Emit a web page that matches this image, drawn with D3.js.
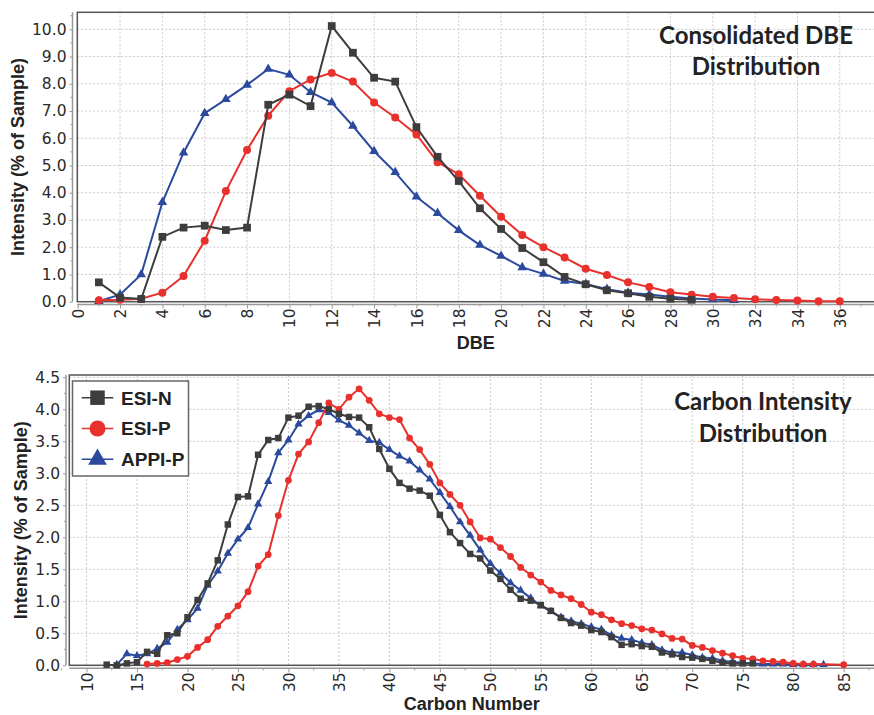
<!DOCTYPE html>
<html>
<head>
<meta charset="utf-8">
<script src="https://cdn.jsdelivr.net/npm/d3@7/dist/d3.min.js"></script>
<style>
  body { margin: 0; background: #fff; }
  svg { display: block; }
</style>
</head>
<body>
<script>
const SERIES = ['ESI-N', 'ESI-P', 'APPI-P']

// DBE distribution
const dbeN = [1, 2, 3, 4, 5, 6, 7, 8, 9, 10, 11, 12, 13, 14, 15, 16, 17, 18, 19, 20, 21, 22, 23, 24, 25, 26, 27, 28, 29]
const dbeEsiN = [0.71, 0.15, 0.10, 2.38, 2.72, 2.79, 2.63, 2.72, 7.23, 7.60, 7.18, 10.12, 9.14, 8.22, 8.08, 6.41, 5.32, 4.43, 3.43, 2.67, 1.97, 1.45, 0.91, 0.64, 0.42, 0.31, 0.18, 0.11, 0.07]
const dbeP = [1, 2, 3, 4, 5, 6, 7, 8, 9, 10, 11, 12, 13, 14, 15, 16, 17, 18, 19, 20, 21, 22, 23, 24, 25, 26, 27, 28, 29, 30, 31, 32, 33, 34, 35, 36]
const dbeEsiP = [0.05, 0.07, 0.11, 0.33, 0.94, 2.24, 4.06, 5.57, 6.83, 7.73, 8.16, 8.40, 8.08, 7.31, 6.76, 6.14, 5.12, 4.68, 3.89, 3.12, 2.45, 2.00, 1.62, 1.21, 0.98, 0.71, 0.54, 0.35, 0.26, 0.18, 0.14, 0.09, 0.06, 0.04, 0.02, 0.02]
const dbeA = [1, 2, 3, 4, 5, 6, 7, 8, 9, 10, 11, 12, 13, 14, 15, 16, 17, 18, 19, 20, 21, 22, 23, 24, 25, 26, 27, 28, 29, 30, 31]
const dbeAppiP = [0.02, 0.26, 1.00, 3.65, 5.47, 6.92, 7.43, 7.96, 8.54, 8.33, 7.69, 7.31, 6.45, 5.52, 4.75, 3.85, 3.25, 2.62, 2.08, 1.68, 1.26, 1.02, 0.76, 0.65, 0.46, 0.33, 0.26, 0.18, 0.12, 0.08, 0.05]
const dbeXTicks = [0, 2, 4, 6, 8, 10, 12, 14, 16, 18, 20, 22, 24, 26, 28, 30, 32, 34, 36]
const dbeYTicks = [0, 1, 2, 3, 4, 5, 6, 7, 8, 9, 10]

// carbon number distribution
const cN = [12, 13, 14, 15, 16, 17, 18, 19, 20, 21, 22, 23, 24, 25, 26, 27, 28, 29, 30, 31, 32, 33, 34, 35, 36, 37, 38, 39, 40, 41, 42, 43, 44, 45, 46, 47, 48, 49, 50, 51, 52, 53, 54, 55, 56, 57, 58, 59, 60, 61, 62, 63, 64, 65, 66, 67, 68, 69, 70, 71, 72, 73, 74, 75, 76]
const cEsiN = [0.01, 0.00, 0.03, 0.05, 0.21, 0.18, 0.47, 0.50, 0.75, 1.02, 1.28, 1.64, 2.20, 2.63, 2.64, 3.29, 3.52, 3.55, 3.87, 3.90, 4.04, 4.05, 4.00, 3.93, 3.88, 3.87, 3.72, 3.38, 3.07, 2.85, 2.76, 2.73, 2.65, 2.35, 2.08, 1.91, 1.74, 1.67, 1.48, 1.35, 1.18, 1.04, 1.01, 0.94, 0.85, 0.74, 0.66, 0.62, 0.55, 0.52, 0.44, 0.32, 0.33, 0.30, 0.29, 0.20, 0.17, 0.13, 0.12, 0.10, 0.07, 0.04, 0.03, 0.03, 0.03]
const cP = [16, 17, 18, 19, 20, 21, 22, 23, 24, 25, 26, 27, 28, 29, 30, 31, 32, 33, 34, 35, 36, 37, 38, 39, 40, 41, 42, 43, 44, 45, 46, 47, 48, 49, 50, 51, 52, 53, 54, 55, 56, 57, 58, 59, 60, 61, 62, 63, 64, 65, 66, 67, 68, 69, 70, 71, 72, 73, 74, 75, 76, 77, 78, 79, 80, 81, 82, 85]
const cEsiP = [0.02, 0.03, 0.04, 0.09, 0.14, 0.28, 0.40, 0.61, 0.77, 0.93, 1.15, 1.55, 1.73, 2.34, 2.89, 3.30, 3.49, 3.79, 4.10, 4.00, 4.19, 4.32, 4.14, 3.93, 3.87, 3.84, 3.55, 3.37, 3.14, 2.85, 2.67, 2.50, 2.24, 1.99, 1.97, 1.84, 1.70, 1.53, 1.41, 1.30, 1.17, 1.10, 1.04, 0.95, 0.83, 0.79, 0.71, 0.65, 0.62, 0.57, 0.55, 0.49, 0.42, 0.41, 0.31, 0.28, 0.23, 0.19, 0.15, 0.11, 0.10, 0.07, 0.06, 0.05, 0.03, 0.02, 0.02, 0.01]
const cA = [13, 14, 15, 16, 17, 18, 19, 20, 21, 22, 23, 24, 25, 26, 27, 28, 29, 30, 31, 32, 33, 34, 35, 36, 37, 38, 39, 40, 41, 42, 43, 44, 45, 46, 47, 48, 49, 50, 51, 52, 53, 54, 55, 56, 57, 58, 59, 60, 61, 62, 63, 64, 65, 66, 67, 68, 69, 70, 71, 72, 73, 74, 75, 76, 77, 78, 79, 80, 81, 82, 83]
const cAppiP = [0.01, 0.18, 0.15, 0.18, 0.26, 0.36, 0.56, 0.71, 0.89, 1.25, 1.47, 1.75, 1.97, 2.15, 2.52, 2.87, 3.32, 3.52, 3.77, 3.90, 3.99, 3.95, 3.83, 3.75, 3.63, 3.51, 3.48, 3.37, 3.27, 3.19, 3.05, 2.91, 2.70, 2.48, 2.24, 2.03, 1.80, 1.59, 1.44, 1.29, 1.17, 1.05, 0.93, 0.84, 0.75, 0.69, 0.65, 0.60, 0.56, 0.47, 0.42, 0.40, 0.35, 0.32, 0.24, 0.20, 0.20, 0.16, 0.12, 0.11, 0.07, 0.05, 0.04, 0.03, 0.02, 0.02, 0.02, 0.01, 0.01, 0.01, 0.01]
const cXTicks = [10, 15, 20, 25, 30, 35, 40, 45, 50, 55, 60, 65, 70, 75, 80, 85]
const cYTicks = [0, 0.5, 1, 1.5, 2, 2.5, 3, 3.5, 4, 4.5]

const colors = { 'ESI-N': '#3d3d3d', 'ESI-P': '#e8302c', 'APPI-P': '#2b4a9e' }
const shapes = { 'ESI-N': d3.symbolSquare, 'ESI-P': d3.symbolCircle, 'APPI-P': d3.symbolTriangle }

const svg = d3.select('body').append('svg')
  .attr('width', 874)
  .attr('height', 715)

function zip (xs, ys) {
  return xs.map((x, i) => ({ x, y: ys[i] }))
}

function drawChart (o) {
  const g = svg.append('g')
  const x = d3.scaleLinear().domain(o.xDomain).range(o.xRange)
  const y = d3.scaleLinear().domain(o.yDomain).range(o.yRange)
  const left = o.frame[0], top = o.frame[1], right = o.frame[2], bottom = o.frame[3]

  // grid
  g.append('g').selectAll('line').data(o.xGrid).join('line')
    .attr('x1', d => x(d)).attr('x2', d => x(d))
    .attr('y1', top).attr('y2', bottom)
    .attr('stroke', '#c9c9c9').attr('stroke-dasharray', '2,2')
  g.append('g').selectAll('line').data(o.yTicks).join('line')
    .attr('x1', left).attr('x2', right)
    .attr('y1', d => y(d)).attr('y2', d => y(d))
    .attr('stroke', '#c9c9c9').attr('stroke-dasharray', '2,2')

  // frame
  g.append('rect')
    .attr('x', left).attr('y', top)
    .attr('width', right - left).attr('height', bottom - top)
    .attr('fill', 'none').attr('stroke', '#555').attr('stroke-width', 1.5)

  // y axis
  const yAx = g.append('g').attr('transform', `translate(${o.yAxisX},0)`)
    .call(d3.axisLeft(y).tickValues(o.yTicks).tickFormat(d3.format('.1f')).tickSize(3).tickPadding(3))
  yAx.append('g').selectAll('line').data(o.yMinor).join('line')
    .attr('x1', -2).attr('x2', 0).attr('y1', d => y(d)).attr('y2', d => y(d))
    .attr('stroke', '#999')
  yAx.select('.domain').attr('d', `M0,${top}V${bottom}`)

  // x axis
  const xAx = g.append('g').attr('transform', `translate(0,${o.xAxisY})`)
    .call(d3.axisBottom(x).tickValues(o.xTicks).tickFormat(d3.format('d')).tickSize(4))
  xAx.append('g').selectAll('line').data(o.xMinor).join('line')
    .attr('x1', d => x(d)).attr('x2', d => x(d)).attr('y1', 0).attr('y2', 2)
    .attr('stroke', '#999')
  xAx.select('.domain').attr('d', `M${left},0H${right}`)
  xAx.selectAll('.tick text')
    .attr('transform', 'rotate(-90)')
    .attr('text-anchor', 'end')
    .attr('x', -4).attr('y', 0).attr('dy', '0.36em')

  for (const ax of [xAx, yAx]) {
    ax.selectAll('.domain').attr('stroke', '#999').attr('stroke-width', 1.5)
    ax.selectAll('.tick line').attr('stroke', '#999')
    ax.selectAll('.tick text')
      .attr('font-family', 'DejaVu Sans, sans-serif')
      .attr('font-size', 15.5).attr('fill', '#2a2a2a')
  }

  // axis titles
  g.append('text')
    .attr('transform', `translate(${o.yTitleX},${(top + bottom) / 2}) rotate(-90)`)
    .attr('text-anchor', 'middle')
    .attr('font-family', 'Liberation Sans, Arial, sans-serif')
    .attr('font-weight', 'bold').attr('font-size', 18).attr('fill', '#222')
    .text('Intensity (% of Sample)')
  g.append('text')
    .attr('x', (left + 874) / 2).attr('y', o.xTitleY)
    .attr('text-anchor', 'middle')
    .attr('font-family', 'Liberation Sans, Arial, sans-serif')
    .attr('font-weight', 'bold').attr('font-size', 18).attr('fill', '#222')
    .text(o.xTitle)

  // chart title
  const t = g.append('text')
    .attr('text-anchor', 'middle')
    .attr('font-family', 'Lato, Open Sans, sans-serif')
    .attr('font-weight', 'bold').attr('font-size', 24).attr('fill', '#222')
  o.title.forEach((s, i) => {
    t.append('tspan').attr('x', o.titleX).attr('y', o.titleY[i]).text(s)
  })

  // series
  const line = d3.line().x(d => x(d.x)).y(d => y(d.y))
  for (const s of o.order) {
    const pts = o.data[s]
    g.append('path').datum(pts)
      .attr('d', line)
      .attr('fill', 'none')
      .attr('stroke', colors[s])
      .attr('stroke-width', o.lineWidth)
    g.append('g').selectAll('path').data(pts).join('path')
      .attr('transform', d => `translate(${x(d.x)},${y(d.y)})`)
      .attr('d', d3.symbol().type(shapes[s]).size(o.markerSize[s]))
      .attr('fill', colors[s])
  }
  return g
}

drawChart({
  xDomain: [0, 36], xRange: [77.7, 839.8],
  yDomain: [0, 10], yRange: [301.7, 29.3],
  frame: [77.3, 12.3, 876, 301.7],
  xGrid: dbeXTicks,
  xTicks: dbeXTicks,
  xMinor: [1, 3, 5, 7, 9, 11, 13, 15, 17, 19, 21, 23, 25, 27, 29, 31, 33, 35, 37],
  yTicks: dbeYTicks,
  yMinor: [0.5, 1.5, 2.5, 3.5, 4.5, 5.5, 6.5, 7.5, 8.5, 9.5, 10.5],
  yAxisX: 72.5, xAxisY: 304.5,
  yTitleX: 24, xTitleY: 349, xTitle: 'DBE',
  title: ['Consolidated DBE', 'Distribution'], titleX: 756, titleY: [44, 75],
  order: ['APPI-P', 'ESI-P', 'ESI-N'],
  data: {
    'ESI-N': zip(dbeN, dbeEsiN),
    'ESI-P': zip(dbeP, dbeEsiP),
    'APPI-P': zip(dbeA, dbeAppiP)
  },
  lineWidth: 2,
  markerSize: { 'ESI-N': 60, 'ESI-P': 50, 'APPI-P': 40 }
})

const bottomChart = drawChart({
  xDomain: [10, 85], xRange: [86.5, 843.7],
  yDomain: [0, 4.5], yRange: [665.3, 377.3],
  frame: [69.3, 375, 876, 665.3],
  xGrid: cXTicks,
  xTicks: cXTicks,
  xMinor: [7.5, 12.5, 17.5, 22.5, 27.5, 32.5, 37.5, 42.5, 47.5, 52.5, 57.5, 62.5, 67.5, 72.5, 77.5, 82.5, 87.5],
  yTicks: cYTicks,
  yMinor: [0.25, 0.75, 1.25, 1.75, 2.25, 2.75, 3.25, 3.75, 4.25],
  yAxisX: 66, xAxisY: 668.3,
  yTitleX: 27, xTitleY: 710, xTitle: 'Carbon Number',
  title: ['Carbon Intensity', 'Distribution'], titleX: 763, titleY: [410, 442],
  order: ['APPI-P', 'ESI-P', 'ESI-N'],
  data: {
    'ESI-N': zip(cN, cEsiN),
    'ESI-P': zip(cP, cEsiP),
    'APPI-P': zip(cA, cAppiP)
  },
  lineWidth: 2,
  markerSize: { 'ESI-N': 42, 'ESI-P': 36, 'APPI-P': 30 }
})

// legend
const legend = bottomChart.append('g')
legend.append('rect')
  .attr('x', 72.5).attr('y', 381).attr('width', 116).attr('height', 95)
  .attr('fill', '#fff').attr('stroke', '#666').attr('stroke-width', 1.5)
const entries = legend.selectAll('g.entry').data(SERIES).join('g')
  .attr('class', 'entry')
  .attr('transform', (d, i) => `translate(0,${397.7 + i * 30.8})`)
entries.append('line')
  .attr('x1', 81.7).attr('x2', 113.3)
  .attr('stroke', d => colors[d]).attr('stroke-width', 1.5)
entries.append('path')
  .attr('transform', 'translate(97.5,0)')
  .attr('d', d => d3.symbol().type(shapes[d]).size(d === 'ESI-N' ? 210 : d === 'ESI-P' ? 200 : 150)())
  .attr('fill', d => colors[d])
entries.append('text')
  .attr('x', 121).attr('dy', '0.36em')
  .attr('font-family', 'Liberation Sans, Arial, sans-serif')
  .attr('font-weight', 'bold').attr('font-size', 19).attr('fill', '#222')
  .text(d => d)
</script>
</body>
</html>
